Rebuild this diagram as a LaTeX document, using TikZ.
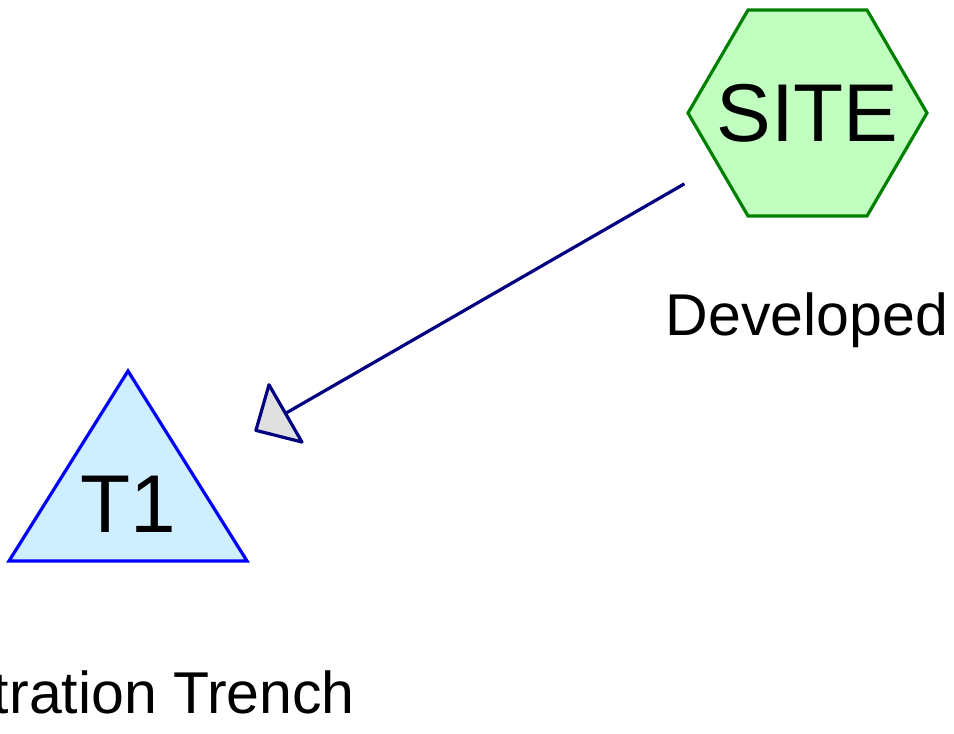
\documentclass[tikz,border=0pt]{standalone}
\usepackage{fontspec}
\setmainfont{Liberation Sans}
\usetikzlibrary{arrows.meta}
\definecolor{sitefill}{HTML}{C0FFC0}
\definecolor{siteline}{HTML}{008000}
\definecolor{trenchfill}{HTML}{CFEEFF}
\definecolor{trenchline}{HTML}{0000FF}
\definecolor{flowline}{HTML}{000080}
\definecolor{headfill}{HTML}{E0E0E0}
\tikzset{
  bigtext/.style={font=\fontsize{82}{96}\selectfont},
  captext/.style={font=\fontsize{59}{70}\selectfont, anchor=base},
  siteshape/.style={draw=siteline, fill=sitefill, line width=3.2pt, line join=miter},
  trenchshape/.style={draw=trenchline, fill=trenchfill, line width=3.2pt, line join=miter},
  flow/.style={draw=flowline, line width=3.2pt,
    -{Triangle[length=38pt, width=73pt, fill=headfill, line join=round]}},
}
\begin{document}
\begin{tikzpicture}[x=1pt,y=-1pt]
\useasboundingbox (0,0) rectangle (954,734);
% development site
\path[siteshape] (688,113) -- (748,10) -- (867,10) -- (927,113) -- (867,216) -- (748,216) -- cycle;
\node[bigtext] (site) at (807.5,113) {SITE};
\node[captext] (sitelabel) at (807,335) {Developed};
% infiltration trench
\path[trenchshape] (128,371) -- (247,561) -- (9,561) -- cycle;
\node[bigtext] (t1) at (128,504) {T1};
\node[captext] (t1label) at (128,713) {Infiltration Trench};
% flow from site to trench
\draw[flow, shorten <=142pt, shorten >=146pt] (site.center) -- (t1.center);
\end{tikzpicture}
\end{document}
